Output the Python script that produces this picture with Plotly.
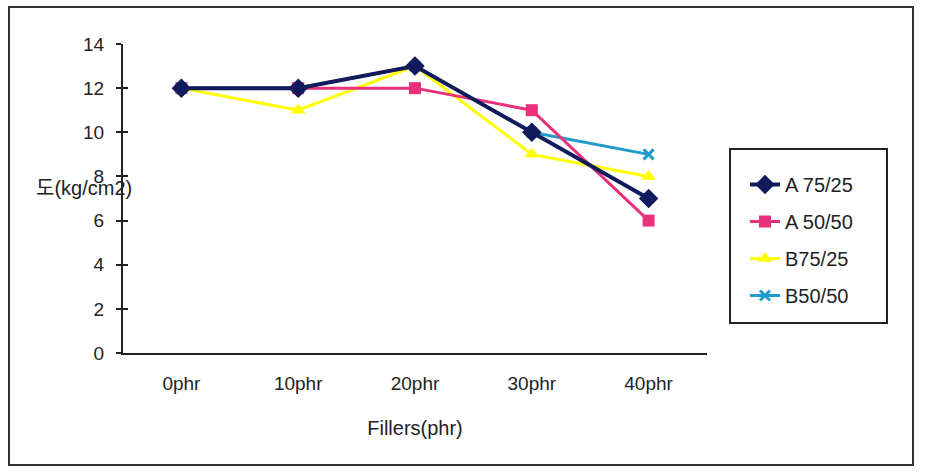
import plotly.graph_objects as go

categories = ["0phr", "10phr", "20phr", "30phr", "40phr"]
a_75_25 = [12, 12, 13, 10, 7]
a_50_50 = [12, 12, 12, 11, 6]
b_75_25 = [12, 11, 13, 9, 8]
b_50_50 = [12, 12, 13, 10, 9]
y_ticks = [0, 2, 4, 6, 8, 10, 12, 14]

FONT = "Liberation Sans, Noto Sans CJK KR, sans-serif"

fig = go.Figure()
fig.add_trace(go.Scatter(x=categories, y=b_50_50, name="B50/50", mode="lines+markers",
                         line=dict(color="#1f9ccc", width=3),
                         marker=dict(symbol="x-thin", size=10, line=dict(color="#1f9ccc", width=3)),
                         legendrank=4, legendgroup="d"))
fig.add_trace(go.Scatter(x=categories, y=b_75_25, name="B75/25", mode="lines+markers",
                         line=dict(color="#ffff00", width=3),
                         marker=dict(symbol="triangle-up", size=13, color="#ffff00"),
                         legendrank=3, legendgroup="c"))
fig.add_trace(go.Scatter(x=categories, y=a_50_50, name="A 50/50", mode="lines+markers",
                         line=dict(color="#e8317a", width=3),
                         marker=dict(symbol="square", size=12, color="#e8317a"),
                         legendrank=2, legendgroup="b"))
fig.add_trace(go.Scatter(x=categories, y=a_75_25, name="A 75/25", mode="lines+markers",
                         line=dict(color="#111a5a", width=4),
                         marker=dict(symbol="diamond", size=15, color="#111a5a"),
                         legendrank=1, legendgroup="a"))

def px_x(p):
    return (p - 123) / 584.0

def px_y(p):
    return (353 - p) / 309.0

fig.update_layout(
    width=927, height=475,
    margin=dict(l=123, r=220, t=44, b=122),
    paper_bgcolor="white", plot_bgcolor="white",
    font=dict(family=FONT, size=19, color="#222222"),
    showlegend=True,
    legend=dict(x=px_x(745), y=px_y(165), xanchor="left", yanchor="top",
                bgcolor="rgba(0,0,0,0)", borderwidth=0, tracegroupgap=8,
                font=dict(size=20, family=FONT)),
    xaxis=dict(type="category", range=[-0.5, 4.5], showline=True, linecolor="#222222",
               linewidth=2, ticks="", showgrid=False, zeroline=False,
               ticklabelstandoff=12, tickfont=dict(size=19),
               title=dict(text="Fillers(phr)", font=dict(size=20), standoff=28)),
    yaxis=dict(range=[0, 14], tickvals=y_ticks, showline=True, linecolor="#222222",
               linewidth=2, ticks="outside", ticklen=5, tickwidth=2, tickcolor="#222222",
               showgrid=False, zeroline=False, ticklabelstandoff=8, tickfont=dict(size=19)),
    yaxis2=dict(range=[0, 14], tickvals=y_ticks, overlaying="y", side="left",
                ticks="inside", ticklen=5, tickwidth=2, tickcolor="#222222",
                showticklabels=False, showgrid=False, zeroline=False, showline=False),
)

# invisible trace to activate yaxis2
fig.add_trace(go.Scatter(x=categories, y=[None] * 5, yaxis="y2", showlegend=False,
                         hoverinfo="skip"))

# outer frame
fig.add_shape(type="rect", xref="paper", yref="paper",
              x0=px_x(9), x1=px_x(913), y0=px_y(465), y1=px_y(7),
              line=dict(color="#333333", width=2), layer="below")
# legend box
fig.add_shape(type="rect", xref="paper", yref="paper",
              x0=px_x(730), x1=px_x(887), y0=px_y(323), y1=px_y(149),
              line=dict(color="#222222", width=2), layer="below")

fig.add_annotation(text="도(kg/cm2)", xref="paper", yref="paper",
                   x=px_x(84), y=px_y(188), xanchor="center", yanchor="middle",
                   showarrow=False,
                   font=dict(size=20, family=FONT, color="#222222"))

fig.write_html("out.html", config={"displayModeBar": False},
               post_script="document.body.style.margin='0';")
